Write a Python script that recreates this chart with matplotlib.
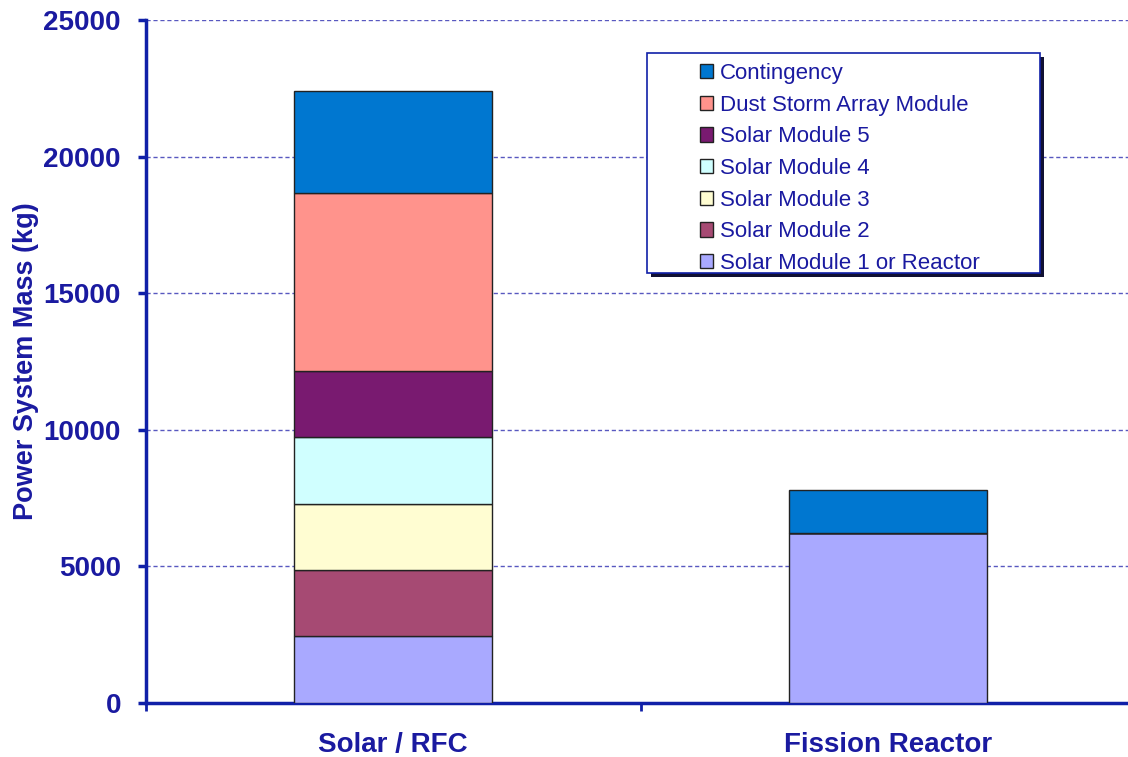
import matplotlib
matplotlib.use("Agg")
import matplotlib.pyplot as plt
from matplotlib.patches import Rectangle

plt.rcParams['font.family'] = ['Liberation Sans', 'DejaVu Sans']

categories = ["Solar / RFC", "Fission Reactor"]
series_names = ["Solar Module 1 or Reactor", "Solar Module 2", "Solar Module 3",
                "Solar Module 4", "Solar Module 5", "Dust Storm Array Module",
                "Contingency"]
solar_values = [2450, 2420, 2430, 2440, 2410, 6520, 3730]
fission_values = [6220, 0, 0, 0, 0, 0, 1580]
colors = ["#A9A9FF", "#A64A73", "#FFFDD2", "#D0FFFF", "#791A70", "#FF938C", "#0077D0"]

navy = "#1A1AA0"
axis_col = "#1020A8"

fig = plt.figure(figsize=(11.28, 7.57), dpi=100)
ax_left, ax_right = 146.0, 1135.0
ax = fig.add_axes([ax_left/1128, 54/757, (ax_right - ax_left)/1128, (703-20)/757])
axw = ax_right - ax_left

x = list(range(len(categories)))
bottoms = [0.0] * len(categories)
handles = []
for i, name in enumerate(series_names):
    vals = [solar_values[i], fission_values[i]]
    bars = ax.bar(x, vals, width=0.4, bottom=bottoms, color=colors[i],
                  edgecolor="#222222", linewidth=1.0, label=name, zorder=3)
    handles.append(bars)
    bottoms = [b + v for b, v in zip(bottoms, vals)]

ax.set_xlim(-0.5, 1.5)
ax.set_ylim(0, 25000)
ax.set_yticks([0, 5000, 10000, 15000, 20000, 25000])
ax.set_xticks(x)
ax.set_xticklabels(categories)
ax.set_xticks([-0.5, 0.5, 1.5], minor=True)

ax.yaxis.grid(True, linestyle=(0, (3, 2)), color="#5858C0", linewidth=1.0, zorder=0)
ax.set_axisbelow(True)

for s in ["top", "right"]:
    ax.spines[s].set_visible(False)
for s in ["left", "bottom"]:
    ax.spines[s].set_color(axis_col)
    ax.spines[s].set_linewidth(2.5)

ax.tick_params(axis="y", direction="out", length=6, width=2.5, color=axis_col,
               labelsize=20, labelcolor=navy, pad=12)
ax.tick_params(axis="x", which="major", length=0, labelsize=20, labelcolor=navy, pad=21)
ax.tick_params(axis="x", which="minor", direction="out", length=6, width=2.0, color=axis_col)
for lab in ax.get_yticklabels() + ax.get_xticklabels():
    lab.set_fontweight("bold")

ax.set_ylabel("Power System Mass (kg)", fontsize=19.5, fontweight="bold", color=navy)
ax.yaxis.set_label_coords((39 - ax_left)/axw, 0.5)

# legend box with shadow
box_x0, box_y0 = (647-ax_left)/axw, (703-273)/683
box_w, box_h = (1040-647)/axw, (273-53)/683
shadow = Rectangle((box_x0 + 4/axw, box_y0 - 4/683), box_w, box_h, transform=ax.transAxes,
                   facecolor="#111133", edgecolor="none", zorder=5)
frame = Rectangle((box_x0, box_y0), box_w, box_h, transform=ax.transAxes,
                  facecolor="white", edgecolor=axis_col, linewidth=1.2, zorder=6)
ax.add_patch(shadow)
ax.add_patch(frame)

leg = ax.legend(handles[::-1], series_names[::-1], loc="upper left",
                bbox_to_anchor=((700-ax_left)/axw, (703-63)/683), frameon=False,
                fontsize=16, handlelength=0.6, handleheight=0.6, handletextpad=0.3,
                labelspacing=0.48, borderpad=0, borderaxespad=0)
leg.set_zorder(7)
for t in leg.get_texts():
    t.set_color(navy)

fig.savefig("out.png", dpi=100)
